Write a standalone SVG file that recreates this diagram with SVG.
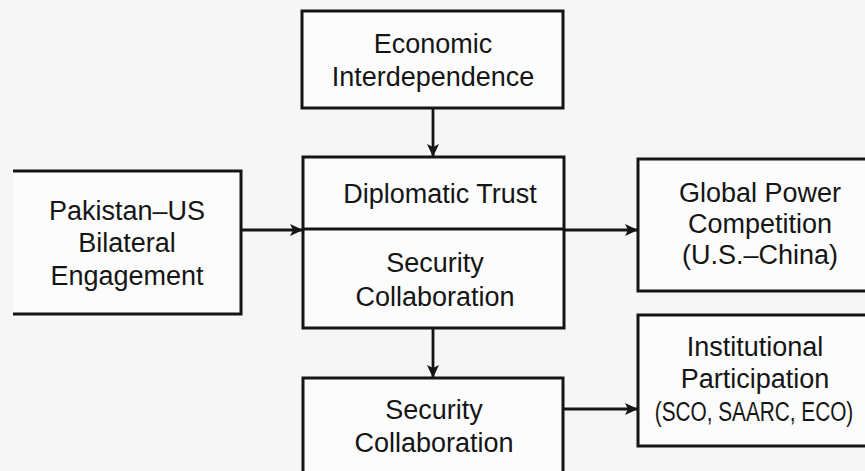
<svg xmlns="http://www.w3.org/2000/svg" width="865" height="471" viewBox="0 0 865 471">
<style>
.box{fill:#fcfcfc;stroke:#151515;stroke-width:3}
.t{font-family:"Liberation Sans",Arial,sans-serif;font-size:27px;fill:#151515;text-anchor:middle}
.c{stroke:#151515;stroke-width:2.8;fill:none}
</style>
<defs>
<marker id="ah" markerWidth="13" markerHeight="12" refX="12" refY="6" orient="auto" markerUnits="userSpaceOnUse">
<path d="M0,0 L13,6 L0,12 L3,6 Z" fill="#151515"/>
</marker>
</defs>
<rect width="865" height="471" fill="#f6f6f6"/>
<g id="economic">
<rect class="box" x="302" y="11" width="261" height="97"/>
<text class="t" x="433" y="53">Economic</text>
<text class="t" x="433" y="86">Interdependence</text>
</g>
<g id="pakistan-us">
<path class="box" d="M13,171 H241 V314 H13"/>
<text class="t" x="127" y="220">Pakistan–US</text>
<text class="t" x="127" y="252">Bilateral</text>
<text class="t" x="127" y="285">Engagement</text>
</g>
<g id="center">
<rect class="box" x="303" y="157" width="261" height="171"/>
<line x1="303" y1="229" x2="564" y2="229" stroke="#151515" stroke-width="3"/>
<text class="t" x="440" y="203">Diplomatic Trust</text>
<text class="t" x="435" y="272">Security</text>
<text class="t" x="435" y="306">Collaboration</text>
</g>
<g id="global">
<path class="box" d="M870,159 H638 V291 H870"/>
<text class="t" x="760" y="202">Global Power</text>
<text class="t" x="760" y="233">Competition</text>
<text class="t" x="760" y="264">(U.S.–China)</text>
</g>
<g id="institutional">
<path class="box" d="M870,315 H638 V446 H870"/>
<text class="t" x="755" y="356">Institutional</text>
<text class="t" x="755" y="388">Participation</text>
<text class="t" transform="translate(754,421) scale(0.77,1)" x="0" y="0">(SCO, SAARC, ECO)</text>
</g>
<g id="security">
<path class="box" d="M303,480 V378 H563 V480"/>
<text class="t" x="434" y="419">Security</text>
<text class="t" x="434" y="452">Collaboration</text>
</g>
<g id="connectors">
<line class="c" x1="433" y1="108" x2="433" y2="156" marker-end="url(#ah)"/>
<line class="c" x1="241" y1="230" x2="302" y2="230" marker-end="url(#ah)"/>
<line class="c" x1="564" y1="230" x2="637" y2="230" marker-end="url(#ah)"/>
<line class="c" x1="433" y1="328" x2="433" y2="377" marker-end="url(#ah)"/>
<line class="c" x1="563" y1="409" x2="637" y2="409" marker-end="url(#ah)"/>
</g>
</svg>
